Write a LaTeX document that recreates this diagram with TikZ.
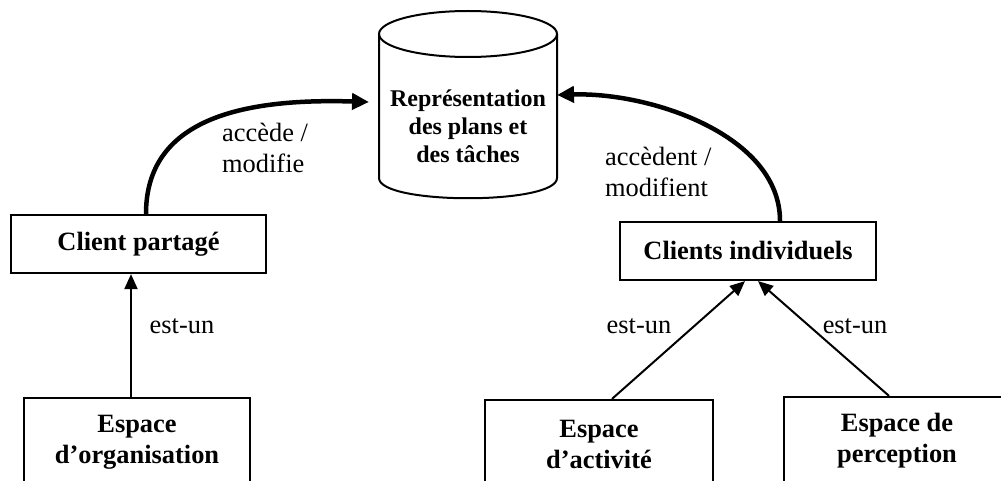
\documentclass[tikz,border=0pt]{standalone}
\usepackage{fontspec}
\setmainfont{Liberation Serif}
\usetikzlibrary{arrows.meta,fit}
\begin{document}
\begin{tikzpicture}[x=1pt,y=-1pt,
  lbl/.style={font=\fontsize{26.4}{30.5}\selectfont, inner sep=0pt},
  bold/.style={font=\fontsize{26.4}{31}\selectfont\bfseries, align=center, inner sep=0pt},
  box/.style={draw, line width=2.2pt, inner sep=0pt},
  isa/.style={line width=2pt, -{Triangle[length=15pt,width=13pt]}},
  acc/.style={line width=4.5pt, -{Triangle[length=17pt,width=16pt]}},
  cyl/.style={line width=2pt}
]
\useasboundingbox (0,0) rectangle (1001,481);
\fill[white] (0,0) rectangle (1001,481);
\clip (0,0) rectangle (1001,481);

% cylinder
\draw[cyl] (379,34) -- (379,178) .. controls (379,205) and (557,205) .. (557,178) -- (557,34);
\draw[cyl] (468,34) ellipse [x radius=89, y radius=23];
\node[font=\fontsize{24}{28}\selectfont\bfseries, align=center, inner sep=0pt] (db) at (468,126) {Représentation\\des plans et\\des tâches};
\coordinate (dbL) at (369,102);
\coordinate (dbR) at (557,95);

% boxes
\node[box, bold, minimum width=255pt, minimum height=58pt] (cp) at (138.5,244) {Client partagé};
\node[box, bold, minimum width=256pt, minimum height=58pt] (ci) at (748,251) {Clients individuels};

\node[box, fit={(24,398) (250,500)}] (org) {};
\node[bold] (orgt) at (137,442) {Espace\\d’organisation};
\node[box, fit={(485,400) (713,500)}] (act) {};
\node[bold] (actt) at (599,444) {Espace\\d’activité};
\node[box, fit={(784,397) (1010,500)}] (per) {};
\node[bold] (pert) at (897,441) {Espace de\\perception};

% is-a arrows
\draw[isa] ([xshift=-6pt]org.north) -- ([xshift=-7.5pt]cp.south);
\draw[isa] ([xshift=13pt]act.north) -- ([xshift=-3pt]ci.south);
\draw[isa] ([xshift=-8pt]per.north) -- ([xshift=10pt]ci.south);

% access arrows
\draw[acc] ([xshift=7.5pt]cp.north) .. controls (146,120) and (240,98) .. (dbL);
\draw[acc] ([xshift=32pt]ci.north) .. controls (780,135) and (650,92) .. (dbR);

% labels
\node[lbl] (e1) at (182,326) {est-un};
\node[lbl] (e2) at (639,326) {est-un};
\node[lbl] (e3) at (855,326) {est-un};
\node[lbl, align=left, anchor=west] (m1) at (222,148) {accède /\\modifie};
\node[lbl, align=left, anchor=west] (m2) at (605,172) {accèdent /\\modifient};
\end{tikzpicture}
\end{document}
